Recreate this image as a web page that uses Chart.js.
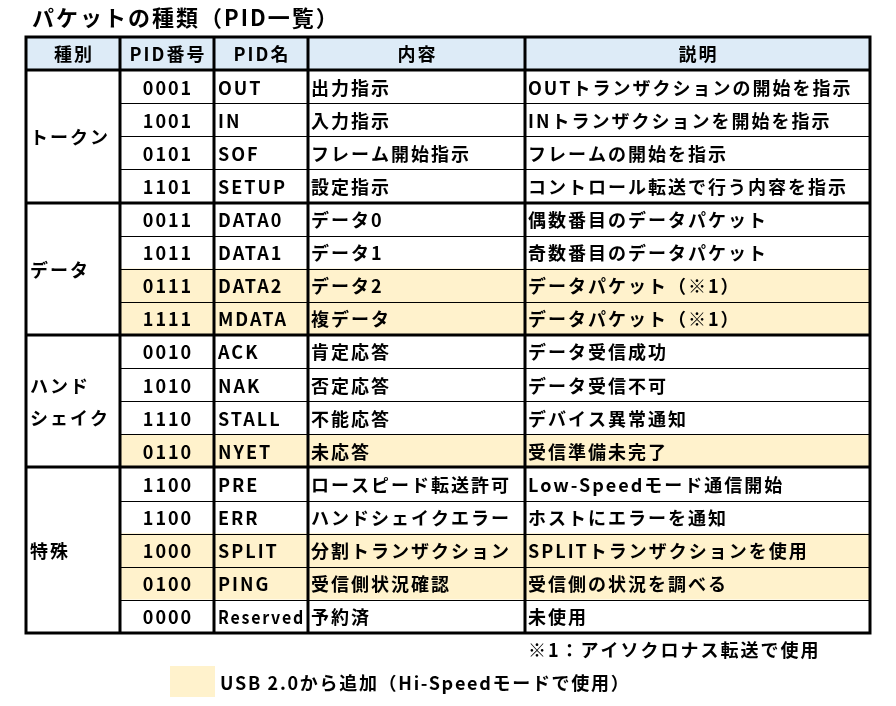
<!DOCTYPE html>
<html lang="ja">
<head>
<meta charset="utf-8">
<title>パケットの種類（PID一覧）</title>
<script src="https://cdn.jsdelivr.net/npm/chart.js@4.4.1/dist/chart.umd.min.js"></script>
<style>
  html, body { margin: 0; padding: 0; background: #fff; }
  canvas { display: block; }
</style>
</head>
<body>
<canvas id="pidTable" width="896" height="706"></canvas>
<script>
// table content
const titleText = "パケットの種類（PID一覧）";
const headers = ["種別", "PID番号", "PID名", "内容", "説明"];
const groupLabels = [["トークン"], ["データ"], ["ハンド", "シェイク"], ["特殊"]];
const groupSizes = [4, 4, 4, 5];
const pidCodes = [
  "0001", "1001", "0101", "1101",
  "0011", "1011", "0111", "1111",
  "0010", "1010", "1110", "0110",
  "1100", "1100", "1000", "0100", "0000",
];
const pidNames = [
  "OUT", "IN", "SOF", "SETUP",
  "DATA0", "DATA1", "DATA2", "MDATA",
  "ACK", "NAK", "STALL", "NYET",
  "PRE", "ERR", "SPLIT", "PING", "Reserved",
];
const contents = [
  "出力指示", "入力指示", "フレーム開始指示", "設定指示",
  "データ0", "データ1", "データ2", "複データ",
  "肯定応答", "否定応答", "不能応答", "未応答",
  "ロースピード転送許可", "ハンドシェイクエラー", "分割トランザクション", "受信側状況確認", "予約済",
];
const descriptions = [
  "OUTトランザクションの開始を指示", "INトランザクションを開始を指示",
  "フレームの開始を指示", "コントロール転送で行う内容を指示",
  "偶数番目のデータパケット", "奇数番目のデータパケット",
  "データパケット（※1）", "データパケット（※1）",
  "データ受信成功", "データ受信不可", "デバイス異常通知", "受信準備未完了",
  "Low-Speedモード通信開始", "ホストにエラーを通知",
  "SPLITトランザクションを使用", "受信側の状況を調べる", "未使用",
];
// rows added in USB 2.0 (highlighted)
const addedInUsb2 = [
  false, false, false, false,
  false, false, true, true,
  false, false, false, true,
  false, false, true, true, false,
];
const footnote = "※1：アイソクロナス転送で使用";
const legendText = "USB 2.0から追加（Hi-Speedモードで使用）";

// layout / styles
const colEdges = [0, 94, 188, 282, 499, 844]; // in table units along x
const headerColor = "#DDEBF7";
const highlightColor = "#FFF2CC";
const font = "'Noto Sans CJK JP', 'Noto Sans', sans-serif";

const rowLabels = ["見出し", ...pidNames];

// one floating bar dataset per column, bars overlap per row
const datasets = headers.map((h, c) => ({
  label: h,
  data: rowLabels.map((_, r) => [colEdges[c], colEdges[c + 1]]),
  backgroundColor: rowLabels.map((_, r) => {
    if (r === 0) return headerColor;
    if (c > 0 && addedInUsb2[r - 1]) return highlightColor;
    return "#ffffff";
  }),
  borderWidth: 0,
  borderSkipped: false,
  barPercentage: 1,
  categoryPercentage: 1,
  grouped: false,
}));

const tablePlugin = {
  id: "tableDrawing",
  afterDatasetsDraw(chart) {
    const { ctx, chartArea, scales: { x, y } } = chart;
    const left = chartArea.left;
    const right = chartArea.right;
    const top = chartArea.top;
    const bottom = chartArea.bottom;
    const rowEdge = (i) => y.getPixelForValue(i - 0.5);

    ctx.save();
    ctx.strokeStyle = "#000";

    // thin lines between rows inside groups
    const groupEnds = [];
    let acc = 0;
    groupSizes.forEach((n) => { acc += n; groupEnds.push(acc); });
    ctx.lineWidth = 1;
    for (let r = 1; r < pidNames.length; r++) {
      if (groupEnds.includes(r)) continue;
      const py = Math.round(rowEdge(r + 1)) + 0.5;
      ctx.beginPath();
      ctx.moveTo(x.getPixelForValue(colEdges[1]), py);
      ctx.lineTo(right, py);
      ctx.stroke();
    }

    // thick lines: header bottom and group borders
    ctx.lineWidth = 3;
    [0, ...groupEnds.slice(0, -1)].forEach((r) => {
      const py = Math.round(rowEdge(r + 1));
      ctx.beginPath();
      ctx.moveTo(left, py);
      ctx.lineTo(right, py);
      ctx.stroke();
    });
    // column lines
    colEdges.slice(1, -1).forEach((v) => {
      const px = Math.round(x.getPixelForValue(v));
      ctx.beginPath();
      ctx.moveTo(px, top);
      ctx.lineTo(px, bottom);
      ctx.stroke();
    });
    // outer border
    ctx.strokeRect(left, top, right - left, bottom - top);

    // text
    ctx.fillStyle = "#000";
    ctx.textBaseline = "middle";
    ctx.font = "bold 18px " + font;
    ctx.letterSpacing = "2px";

    // header
    ctx.textAlign = "center";
    headers.forEach((h, c) => {
      const cx = (x.getPixelForValue(colEdges[c]) + x.getPixelForValue(colEdges[c + 1])) / 2;
      ctx.fillText(h, cx + 1, y.getPixelForValue(0) + 1);
    });

    // body rows
    pidNames.forEach((name, i) => {
      const cy = y.getPixelForValue(i + 1) + 1;
      ctx.textAlign = "center";
      const c1 = (x.getPixelForValue(colEdges[1]) + x.getPixelForValue(colEdges[2])) / 2;
      ctx.fillText(pidCodes[i], c1 + 1, cy);
      ctx.textAlign = "left";
      ctx.fillText(name, x.getPixelForValue(colEdges[2]) + 4, cy, colEdges[3] - colEdges[2] - 7);
      ctx.fillText(contents[i], x.getPixelForValue(colEdges[3]) + 3, cy);
      ctx.fillText(descriptions[i], x.getPixelForValue(colEdges[4]) + 3, cy);
    });

    // group labels
    let start = 0;
    groupSizes.forEach((n, g) => {
      const mid = (rowEdge(start + 1) + rowEdge(start + n + 1)) / 2;
      const lines = groupLabels[g];
      lines.forEach((t, k) => {
        const ly = mid + (k - (lines.length - 1) / 2) * 32 + 1;
        ctx.fillText(t, left + 4, ly);
      });
      start += n;
    });

    // title
    ctx.font = "bold 22px " + font;
    ctx.letterSpacing = "2px";
    ctx.fillText(titleText, 32, 18);

    // footnote and legend
    ctx.font = "bold 18px " + font;
    ctx.letterSpacing = "2px";
    ctx.fillText(footnote, x.getPixelForValue(colEdges[4]) + 3, 650);
    ctx.fillStyle = highlightColor;
    ctx.fillRect(170, 666, 45, 31);
    ctx.fillStyle = "#000";
    ctx.letterSpacing = "1.7px";
    ctx.fillText(legendText, 220, 683);

    ctx.restore();
  },
};

new Chart(document.getElementById("pidTable"), {
  type: "bar",
  data: { labels: rowLabels, datasets },
  options: {
    indexAxis: "y",
    responsive: false,
    animation: false,
    devicePixelRatio: 1,
    layout: { padding: { left: 26, top: 37, right: 26, bottom: 73 } },
    scales: {
      x: { type: "linear", min: colEdges[0], max: colEdges[colEdges.length - 1], display: false },
      y: { type: "category", display: false, offset: true },
    },
    plugins: {
      legend: { display: false },
      tooltip: { enabled: false },
    },
  },
  plugins: [tablePlugin],
});
</script>
</body>
</html>
